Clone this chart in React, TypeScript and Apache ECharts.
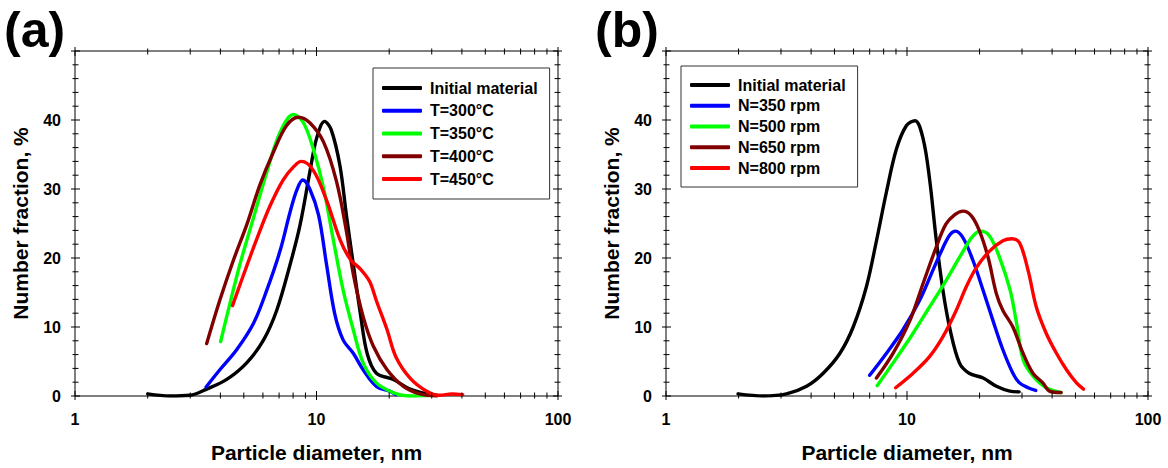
import React, { useEffect, useRef } from "react";
import * as echarts from "echarts";

// ---------- Panel (a) data ----------
const aInitX = [2.0, 2.47, 2.99, 3.51, 4.25, 5.14, 6.03, 6.84, 7.78, 8.55, 9.38, 10.0, 10.8, 11.5, 12.5, 13.3, 14.2, 15.2, 16.2, 17.7, 20.8, 24.4, 28.6, 31.5];
const aInitY = [0.3, 0.0, 0.1, 1.0, 2.4, 4.8, 8.1, 12.4, 19.1, 24.8, 32.4, 37.3, 39.8, 38.6, 33.4, 26.2, 19.1, 11.9, 6.2, 3.3, 2.4, 1.0, 0.3, 0.1];
const aT300X = [3.49, 3.98, 4.67, 5.48, 6.22, 7.06, 7.78, 8.3, 8.77, 9.38, 10.2, 11.0, 11.9, 12.9, 14.2, 15.6, 17.7, 20.1, 21.3];
const aT300Y = [1.3, 3.8, 6.7, 10.5, 15.3, 21.0, 26.7, 29.9, 31.3, 30.0, 26.2, 19.1, 11.9, 8.1, 6.2, 3.8, 1.4, 0.7, 0.2];
const aT350X = [4.01, 4.38, 4.82, 5.48, 6.22, 7.06, 8.03, 8.83, 9.7, 10.7, 11.7, 12.9, 14.2, 15.6, 17.7, 20.8, 24.4, 30.5];
const aT350Y = [7.9, 13.4, 19.1, 25.8, 32.4, 38.2, 40.8, 39.6, 35.8, 30.1, 22.9, 15.3, 9.6, 4.8, 1.9, 0.5, 0.0, 0.1];
const aT400X = [3.51, 3.98, 4.52, 5.14, 5.83, 6.62, 7.52, 8.42, 9.38, 10.7, 12.1, 13.3, 14.2, 15.6, 17.2, 19.6, 22.9, 26.8, 31.5];
const aT400Y = [7.6, 13.9, 19.6, 24.8, 30.6, 35.3, 39.2, 40.4, 39.6, 36.8, 31.1, 23.9, 17.7, 11.5, 7.2, 3.8, 1.4, 0.3, 0.0];
const aT450X = [4.49, 4.98, 5.65, 6.41, 7.27, 8.03, 8.66, 9.7, 11.0, 12.5, 13.8, 15.2, 16.6, 17.7, 19.6, 21.3, 24.4, 28.6, 32.4, 36.3, 40.3];
const aT450Y = [13.1, 17.5, 22.7, 27.5, 31.3, 33.2, 34.0, 32.7, 28.4, 22.7, 19.8, 18.4, 16.6, 13.8, 9.6, 5.7, 2.6, 0.7, 0.1, 0.3, 0.2];

// ---------- Panel (b) data ----------
const bInitX = [1.99, 2.53, 3.16, 3.83, 4.49, 5.27, 5.98, 6.78, 7.47, 8.22, 9.04, 9.95, 10.8, 11.66, 12.4, 13.2, 14.1, 15.1, 16.5, 18.1, 20.7, 23.5, 26.7, 29.2];
const bInitY = [0.3, 0.0, 0.3, 1.4, 3.3, 6.2, 10.0, 15.8, 22.5, 29.6, 35.8, 39.2, 39.9, 37.3, 31.5, 22.9, 15.3, 9.6, 4.8, 3.3, 2.6, 1.4, 0.7, 0.6];
const bN350X = [7.0, 8.22, 9.62, 11.3, 12.8, 14.1, 15.1, 15.9, 17.1, 18.8, 20.7, 22.7, 25.0, 27.5, 29.3, 31.8, 34.2];
const bN350Y = [3.0, 6.2, 9.6, 13.9, 18.2, 21.5, 23.4, 23.9, 22.9, 19.6, 15.3, 11.0, 6.7, 3.3, 1.9, 1.2, 0.8];
const bN500X = [7.52, 8.76, 10.6, 12.4, 14.5, 17.1, 18.8, 20.2, 22.0, 24.2, 26.8, 28.5, 30.3, 33.3, 37.8, 43.6];
const bN500Y = [1.5, 4.8, 9.1, 12.9, 16.7, 21.0, 23.2, 23.9, 23.2, 20.1, 15.3, 10.5, 5.3, 2.9, 1.2, 0.5];
const bN650X = [7.47, 8.76, 10.3, 11.66, 13.2, 14.5, 15.8, 17.1, 18.5, 20.0, 21.7, 23.5, 25.0, 27.5, 30.3, 33.3, 36.6, 39.0, 43.6];
const bN650Y = [2.6, 6.2, 11.0, 16.3, 21.5, 24.9, 26.3, 26.8, 26.1, 23.9, 20.1, 14.8, 12.4, 10.0, 6.2, 3.3, 1.9, 0.7, 0.5];
const bN800X = [8.97, 10.6, 12.4, 14.1, 16.0, 17.6, 19.4, 22.0, 25.0, 27.2, 29.3, 31.8, 34.4, 37.8, 41.7, 45.9, 50.5, 54.0];
const bN800Y = [1.2, 3.3, 5.7, 8.6, 12.4, 15.8, 18.6, 21.0, 22.5, 22.8, 22.2, 18.2, 12.9, 9.1, 6.2, 3.8, 1.9, 1.0];

const namesA = ["Initial material", "T=300°C", "T=350°C", "T=400°C", "T=450°C"];
const namesB = ["Initial material", "N=350 rpm", "N=500 rpm", "N=650 rpm", "N=800 rpm"];
const colors = ["#000000", "#0000ff", "#00ff00", "#800000", "#ff0000"];

// Tick values
const xMajorTicks = [1, 10, 100];
const xMinorTicks = [2, 3, 4, 5, 6, 7, 8, 9, 20, 30, 40, 50, 60, 70, 80, 90];
const yMajorTicks = [0, 10, 20, 30, 40, 50];
const yMinorTicks = [2, 4, 6, 8, 12, 14, 16, 18, 22, 24, 26, 28, 32, 34, 36, 38, 42, 44, 46, 48];

const FONT = "'Liberation Sans', Arial, sans-serif";
const Y_MIN = 0;
const Y_MAX = 50;

function zip(xs: number[], ys: number[]) {
  return xs.map((x, i) => [x, ys[i]]);
}

function lineSeries(name: string, color: string, xs: number[], ys: number[], gi: number) {
  return {
    type: "line",
    name,
    xAxisIndex: gi,
    yAxisIndex: gi,
    data: zip(xs, ys),
    smooth: 0.35,
    symbol: "none",
    color,
    lineStyle: { color, width: 3.4, cap: "round", join: "round" },
    z: 3,
  };
}

function tickLines(c1: number[], c2: number[], horizontal: boolean, out: number, inn: number) {
  const st = { stroke: "#000", lineWidth: 1 };
  if (!horizontal) {
    return [
      { type: "line", shape: { x1: c1[0], y1: c1[1] - inn, x2: c1[0], y2: c1[1] + out }, style: st },
      { type: "line", shape: { x1: c2[0], y1: c2[1] - out, x2: c2[0], y2: c2[1] + inn }, style: st },
    ];
  }
  return [
    { type: "line", shape: { x1: c1[0] - out, y1: c1[1], x2: c1[0] + inn, y2: c1[1] }, style: st },
    { type: "line", shape: { x1: c2[0] - inn, y1: c2[1], x2: c2[0] + out, y2: c2[1] }, style: st },
  ];
}

function xTickSeries(gi: number) {
  const data = [
    ...xMajorTicks.map((v) => [v, 1]),
    ...xMinorTicks.map((v) => [v, 0]),
  ];
  return {
    type: "custom",
    name: "_xticks" + gi,
    xAxisIndex: gi,
    yAxisIndex: gi,
    silent: true,
    clip: false,
    z: 5,
    data,
    renderItem: (_p: any, api: any) => {
      const v = api.value(0);
      const major = api.value(1) === 1;
      const b = api.coord([v, Y_MIN]);
      const t = api.coord([v, Y_MAX]);
      return {
        type: "group",
        children: tickLines(b, t, false, major ? 4 : 2.5, major ? 5 : 3.5),
      };
    },
  };
}

function yTickSeries(gi: number) {
  const data = [
    ...yMajorTicks.map((v) => [1, v, 1]),
    ...yMinorTicks.map((v) => [1, v, 0]),
  ];
  return {
    type: "custom",
    name: "_yticks" + gi,
    xAxisIndex: gi,
    yAxisIndex: gi,
    silent: true,
    clip: false,
    z: 5,
    data,
    encode: { x: 0, y: 1 },
    renderItem: (_p: any, api: any) => {
      const v = api.value(1);
      const major = api.value(2) === 1;
      const l = api.coord([1, v]);
      const r = api.coord([100, v]);
      return {
        type: "group",
        children: tickLines(l, r, true, major ? 4 : 2.5, major ? 5 : 3.5),
      };
    },
  };
}

function xAxis(gi: number) {
  return {
    type: "log",
    logBase: 10,
    min: 1,
    max: 100,
    gridIndex: gi,
    axisLine: { show: false },
    axisTick: { show: false },
    splitLine: { show: false },
    axisLabel: { fontFamily: FONT, fontWeight: "bold", fontSize: 16, color: "#000", margin: 15 },
    name: "Particle diameter, nm",
    nameLocation: "middle",
    nameGap: 46,
    nameTextStyle: { fontFamily: FONT, fontWeight: "bold", fontSize: 21, color: "#000" },
  };
}

function yAxis(gi: number) {
  return {
    type: "value",
    min: Y_MIN,
    max: Y_MAX,
    interval: 10,
    gridIndex: gi,
    axisLine: { show: false },
    axisTick: { show: false },
    splitLine: { show: false },
    axisLabel: {
      fontFamily: FONT,
      fontWeight: "bold",
      fontSize: 16,
      color: "#000",
      margin: 14,
      formatter: (v: number) => (v === 50 ? "" : String(v)),
    },
    name: "Number fraction, %",
    nameLocation: "middle",
    nameGap: 44,
    nameTextStyle: { fontFamily: FONT, fontWeight: "bold", fontSize: 21, color: "#000" },
  };
}

function legend(names: string[], left: number, top: number, gap: number, padding: number[]) {
  return {
    data: names,
    orient: "vertical",
    left,
    top,
    padding,
    itemGap: gap,
    itemWidth: 40,
    itemHeight: 4,
    icon: "roundRect",
    selectedMode: false,
    borderColor: "#333",
    borderWidth: 1,
    backgroundColor: "#fff",
    textStyle: { fontFamily: FONT, fontWeight: "bold", fontSize: 16, color: "#000", padding: [0, 0, 0, 3] },
  };
}

export default function App() {
  const ref = useRef<HTMLDivElement>(null);
  useEffect(() => {
    if (!ref.current) return;
    const chart = echarts.init(ref.current, undefined, { renderer: "svg" });
    const aX = [aInitX, aT300X, aT350X, aT400X, aT450X];
    const aY = [aInitY, aT300Y, aT350Y, aT400Y, aT450Y];
    const bX = [bInitX, bN350X, bN500X, bN650X, bN800X];
    const bY = [bInitY, bN350Y, bN500Y, bN650Y, bN800Y];
    const option: any = {
      animation: false,
      backgroundColor: "#ffffff",
      grid: [
        { left: 75, top: 51, width: 483, height: 349, show: true, borderColor: "#000", borderWidth: 1, backgroundColor: "transparent" },
        { left: 666, top: 51, width: 482, height: 349, show: true, borderColor: "#000", borderWidth: 1, backgroundColor: "transparent" },
      ],
      xAxis: [xAxis(0), xAxis(1)],
      yAxis: [yAxis(0), yAxis(1)],
      legend: [
        legend(namesA, 373, 68, 6.75, [12, 12, 12, 9]),
        legend(namesB, 681, 66, 4.75, [11, 12, 11, 9]),
      ],
      graphic: [
        { type: "text", left: 4, top: 5, style: { text: "(a)", fontFamily: FONT, fontWeight: "bold", fontSize: 50, fill: "#000" } },
        { type: "text", left: 595, top: 5, style: { text: "(b)", fontFamily: FONT, fontWeight: "bold", fontSize: 50, fill: "#000" } },
      ],
      series: [
        ...namesA.map((n, i) => lineSeries(n, colors[i], aX[i], aY[i], 0)),
        ...namesB.map((n, i) => lineSeries(n, colors[i], bX[i], bY[i], 1)),
        xTickSeries(0),
        yTickSeries(0),
        xTickSeries(1),
        yTickSeries(1),
      ],
    };
    chart.setOption(option);
    return () => chart.dispose();
  }, []);
  return (
    <div
      ref={ref}
      style={{ position: "fixed", left: 0, top: 0, width: 1168, height: 468, background: "#fff" }}
    />
  );
}
